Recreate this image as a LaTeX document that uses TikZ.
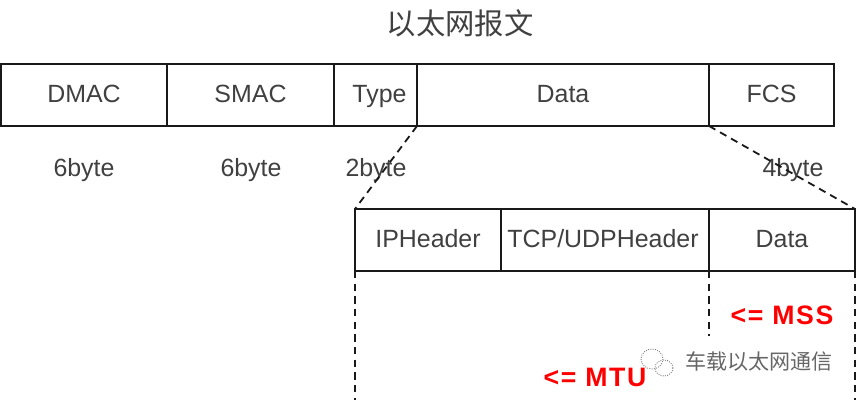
\documentclass[tikz,border=0pt]{standalone}
\usepackage{fontspec}
\setmainfont{Liberation Sans}
\newfontfamily\cjk{Noto Sans CJK SC}
\tikzset{
  cell/.style={draw=black!90,line width=1.35pt,inner sep=0pt,outer sep=0pt,anchor=north west,font=\fontsize{18.7}{20}\selectfont,text=black!75,text height=13pt,text depth=1.5pt},
  lab/.style={inner sep=0pt,font=\fontsize{18.7}{20}\selectfont,text=black!75},
  guide/.style={draw=black!90,line width=1.35pt,dash pattern=on 5.5pt off 4pt},
  red mark/.style={inner sep=0pt,font=\bfseries\fontsize{20}{22}\selectfont\addfontfeature{LetterSpace=6},text=red}
}
\begin{document}
\begin{tikzpicture}[x=0.75pt,y=-0.75pt]
\useasboundingbox (0,0) rectangle (858,400);
\node[inner sep=0pt,font=\cjk\fontsize{22}{24}\selectfont,text=black!75] (title) at (460,23) {以太网报文};
% top row
\node[cell,minimum width=166*0.75pt,minimum height=62*0.75pt] (dmac) at (1,64) {DMAC};
\node[cell,minimum width=167*0.75pt,minimum height=62*0.75pt] (smac) at (167,64) {SMAC};
\node[cell,minimum width=83*0.75pt,minimum height=62*0.75pt] (type) at (334,64) {\hspace*{6pt}Type};
\node[cell,minimum width=292*0.75pt,minimum height=62*0.75pt] (data) at (417,64) {Data};
\node[cell,minimum width=125*0.75pt,minimum height=62*0.75pt] (fcs) at (709,64) {FCS};
% byte labels
\node[lab] (b1) at (84,170.5) {6byte};
\node[lab] (b2) at (251,170.5) {6byte};
\node[lab] (b3) at (376,170.5) {2byte};
\node[lab] (b4) at (793,170.5) {4byte};
% bottom row
\node[cell,minimum width=146*0.75pt,minimum height=62*0.75pt] (ip) at (355,209) {IPHeader};
\node[cell,minimum width=208*0.75pt,minimum height=62*0.75pt] (tcp) at (501,209) {\hspace*{-3pt}TCP/UDPHeader};
\node[cell,minimum width=146*0.75pt,minimum height=62*0.75pt] (d2) at (709,209) {Data};
% free ends
\coordinate (e1) at (355,400);
\coordinate (e2) at (709,336);
\coordinate (e3) at (855,400);
% connectors
\draw[guide] (data.south west) -- (ip.north west);
\draw[guide] (fcs.south west) -- (d2.north east);
\draw[guide] (ip.south west) -- (e1);
\draw[guide] (d2.south west) -- (e2);
\draw[guide] (d2.south east) -- (e3);
% marks
\node[red mark] (mss) at (782,315) {<= MSS};
\node[red mark] (mtu) at (595,377) {<= MTU};
% watermark
\node[inner sep=0pt,font=\cjk\fontsize{15.8}{17}\selectfont,text=black!60] (wm) at (759,362) {车载以太网通信};
\draw[black!50,line width=0.7pt,densely dotted] (652,359) ellipse [x radius=11,y radius=10];
\draw[black!50,line width=0.7pt,densely dotted] (664,368) ellipse [x radius=9,y radius=8];
\end{tikzpicture}
\end{document}
